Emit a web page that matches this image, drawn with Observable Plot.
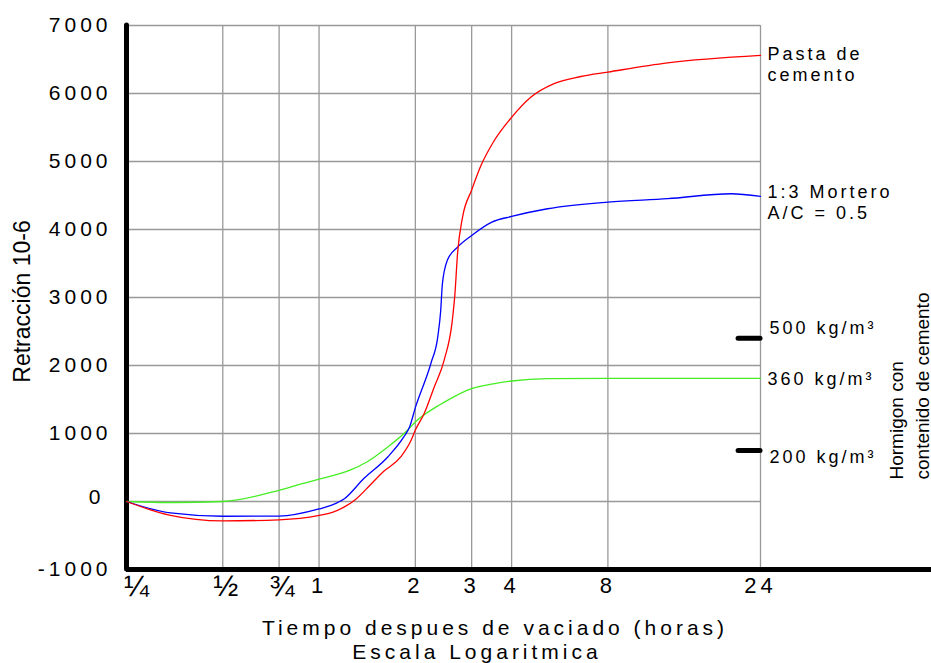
<!DOCTYPE html>
<html>
<head>
<meta charset="utf-8">
<script src="https://cdn.jsdelivr.net/npm/d3@7"></script>
<script src="https://cdn.jsdelivr.net/npm/@observablehq/plot@0.6"></script>
<style>
  html, body { margin: 0; padding: 0; background: #fff; }
  #chart svg { display: block; }
</style>
</head>
<body>
<div id="chart"></div>
<script>
// ---- data ----
const xTicks = [0.25, 0.5, 0.75, 1, 2, 3, 4, 8, 24];
const xTickLabels = ["¼", "½", "¾", "1", "2", "3", "4", "8", "24"];
const yTicks = [-1000, 0, 1000, 2000, 3000, 4000, 5000, 6000, 7000];

// Pasta de cemento (red)
const pasta = [
  [0.25, 0], [0.34, -200], [0.5, -285], [0.75, -270], [1.0, -205], [1.1, -160],
  [1.2, -80], [1.3, 30], [1.45, 250], [1.59, 440], [1.8, 655], [1.94, 900],
  [2.0, 1050], [2.13, 1290], [2.29, 1680], [2.46, 2076], [2.61, 2664], [2.66, 3057],
  [2.71, 3645], [2.81, 4182], [3.0, 4580], [3.2, 4930], [3.5, 5280], [4.0, 5650],
  [4.59, 5945], [5.43, 6145], [6.58, 6250], [8, 6315], [12.3, 6450], [24, 6560]
];
// 1:3 Mortero A/C = 0.5 (blue)
const mortero = [
  [0.25, 0], [0.343, -168], [0.5, -217], [0.75, -215], [1.0, -110], [1.1, -50],
  [1.2, 40], [1.38, 337], [1.64, 655], [1.84, 949], [1.92, 1100], [2.0, 1380],
  [2.24, 2040], [2.35, 2418], [2.40, 2800], [2.43, 3200], [2.52, 3550], [2.71, 3741],
  [3.0, 3913], [3.47, 4109], [4.0, 4192], [5.18, 4305], [8, 4403], [12.3, 4453],
  [19.4, 4526], [24, 4486]
];
// Hormigon 360 kg/m3 (green)
const hormigon360 = [
  [0.25, 0], [0.35, -15], [0.5, 0], [0.75, 165], [0.875, 255], [1.0, 330],
  [1.25, 460], [1.41, 581], [1.64, 802], [1.89, 1047], [2.0, 1169], [2.40, 1430],
  [2.52, 1488], [3.0, 1660], [3.5, 1730], [4.0, 1772], [5.18, 1807], [8, 1810], [24, 1810]
];

const seriesNames = ["Pasta de\ncemento", "1:3 Mortero\nA/C = 0.5", "360 kg/m³"];
const endMarkNames = ["500 kg/m³", "200 kg/m³"];
const endMarkValues = [2400, 750];
const sideNote = "Hormigon con\ncontenido de cemento";
const xTitle = "Tiempo despues de vaciado (horas)";
const xSubtitle = "Escala Logaritmica";
const yTitle = "Retracción 10-6";

// ---- helpers ----
const xTickData = xTicks.map((d, i) => ({ x: d, label: xTickLabels[i] }));
const isFraction = (s) => /[¼½¾]/.test(s);
const firstTick = xTickData.slice(0, 1);
const fracTicks = xTickData.slice(1).filter((d) => isFraction(d.label));
const numTicks = xTickData.filter((d) => !isFraction(d.label));
const endMarks = endMarkValues.map((v, i) => ({ value: v, name: endMarkNames[i] }));
const lastOf = (s) => s[s.length - 1];
const xFirst = xTicks[0], xLast = xTicks[xTicks.length - 1];
const font = "Liberation Sans, Arial, Helvetica, sans-serif";

const endLabel = (series, name, dy) =>
  Plot.text([name], {
    x: () => lastOf(series)[0], y: () => lastOf(series)[1], text: (d) => d,
    textAnchor: "start", lineAnchor: "middle", lineHeight: 1.17,
    dx: 7, dy, fontSize: 18, fill: "#000"
  });

const chart = Plot.plot({
  width: 931,
  height: 663,
  marginLeft: 126,
  marginRight: 0,
  marginTop: 25,
  marginBottom: 94,
  x: { type: "log", domain: [xFirst, xLast], range: [126, 760], axis: null },
  y: { domain: [yTicks[0], yTicks[yTicks.length - 1]], axis: null },
  style: { fontFamily: font, color: "#000", background: "#fff", overflow: "visible" },
  marks: [
    // grid
    Plot.ruleX(xTicks, { stroke: "#999", strokeWidth: 1.3 }),
    Plot.ruleY(yTicks.slice(1), { x1: () => xFirst, x2: () => xLast, stroke: "#999", strokeWidth: 1.3 }),
    // axis lines
    Plot.ruleY([yTicks[0]], { stroke: "#000", strokeWidth: 5 }),
    Plot.ruleX([xFirst], { stroke: "#000", strokeWidth: 5, strokeLinecap: "round" }),
    // x tick labels
    Plot.text(numTicks, {
      x: "x", text: "label", frameAnchor: "bottom", lineAnchor: "top",
      dy: 8, fontSize: 22, fill: "#000"
    }),
    Plot.text(fracTicks, {
      x: "x", text: "label", frameAnchor: "bottom", lineAnchor: "top",
      dx: 3, dy: 5, fontSize: 30, fill: "#000"
    }),
    Plot.text(firstTick, {
      x: "x", text: "label", frameAnchor: "bottom", lineAnchor: "top",
      dx: 10, dy: 5, fontSize: 30, fill: "#000"
    }),
    // y tick labels
    Plot.axisY(yTicks.filter((d) => d !== 0), {
      anchor: "left", tickSize: 0, tickPadding: 15, fontSize: 21, label: null,
      tickFormat: (d) => String(d)
    }),
    Plot.axisY(yTicks.filter((d) => d === 0), {
      anchor: "left", tickSize: 0, tickPadding: 22, fontSize: 21, label: null,
      tickFormat: (d) => String(d), dy: -4
    }),
    // curves
    Plot.line(hormigon360, { x: (d) => d[0], y: (d) => d[1], stroke: "#44ee22", strokeWidth: 1.3, curve: "monotone-x" }),
    Plot.line(mortero, { x: (d) => d[0], y: (d) => d[1], stroke: "#0000ff", strokeWidth: 1.3, curve: "monotone-x" }),
    Plot.line(pasta, { x: (d) => d[0], y: (d) => d[1], stroke: "#ff0000", strokeWidth: 1.3, curve: "monotone-x" }),
    // end marks for 500 and 200 kg/m3
    Plot.ruleY(endMarks, { y: "value", x1: () => 20.5, x2: () => xLast, stroke: "#000", strokeWidth: 5, strokeLinecap: "round" }),
    // labels
    endLabel(pasta, seriesNames[0], 8.5),
    endLabel(mortero, seriesNames[1], 5),
    endLabel(hormigon360, seriesNames[2], 0),
    Plot.text([endMarks[0]], {
      x: () => xLast, y: "value", text: "name", textAnchor: "start", dx: 9, dy: -10,
      fontSize: 18, fill: "#000"
    }),
    Plot.text([endMarks[1]], {
      x: () => xLast, y: "value", text: "name", textAnchor: "start", dx: 9, dy: 7,
      fontSize: 18, fill: "#000"
    }),
    Plot.text([sideNote], {
      frameAnchor: "bottom-right", text: (d) => d, rotate: -90, textAnchor: "start",
      lineAnchor: "middle", lineHeight: 1.37, dx: -24, dy: -90, fontSize: 19, fill: "#000"
    }),
    Plot.text([xTitle], {
      frameAnchor: "bottom", text: (d) => d, lineAnchor: "middle",
      dx: -34, dy: 59, fontSize: 21, fill: "#000"
    }),
    Plot.text([xSubtitle], {
      frameAnchor: "bottom", text: (d) => d, lineAnchor: "middle",
      dx: -52, dy: 83, fontSize: 21, fill: "#000"
    }),
    Plot.text([yTitle], {
      frameAnchor: "left", text: (d) => d, rotate: -90, textAnchor: "middle",
      lineAnchor: "middle", dx: -104, dy: 4, fontSize: 23, fill: "#000"
    })
  ]
});

// letter spacing (styling only)
d3.select(chart).selectAll("text").each(function () {
  const t = this.textContent;
  let ls = "3px";
  if (t.startsWith("Retracción") || t.startsWith("Hormigon")) ls = "0px";
  else if (t.startsWith("Tiempo") || t.startsWith("Escala") || /^[-\d]+$/.test(t)) ls = "4px";
  else if (/^[¼½¾]$/.test(t)) ls = "0px";
  this.setAttribute("letter-spacing", ls);
});

document.getElementById("chart").appendChild(chart);
</script>
</body>
</html>
